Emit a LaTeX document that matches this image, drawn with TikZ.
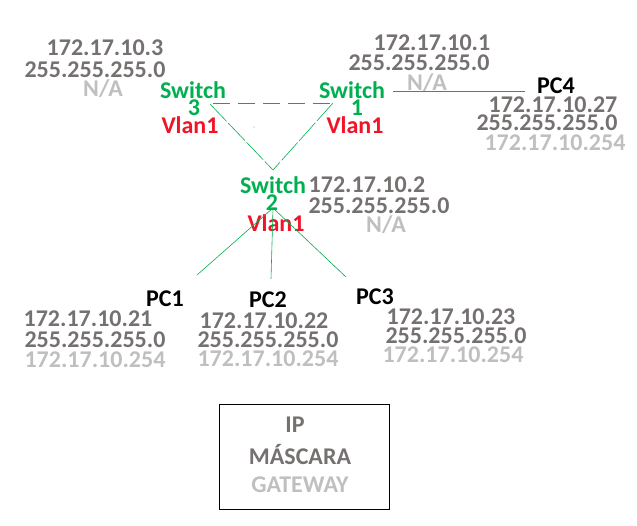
\documentclass[tikz,border=0pt]{standalone}
\usepackage{fontspec}
\setmainfont{Carlito}
\definecolor{ipgray}{RGB}{118,113,113}
\definecolor{gwgray}{RGB}{191,191,191}
\definecolor{swgreen}{RGB}{0,176,80}
\definecolor{vred}{RGB}{240,20,40}
\begin{document}
\begin{tikzpicture}[x=1pt,y=-1pt,
  lbl/.style={inner sep=0pt, anchor=base, text height=15pt, text depth=0pt, font=\fontsize{24}{24}\selectfont\bfseries},
  ip/.style={lbl, text=ipgray},
  gw/.style={lbl, text=gwgray},
  sw/.style={lbl, text=swgreen},
  vl/.style={lbl, text=vred},
  pc/.style={lbl, text=black},
  link/.style={draw=swgreen, line width=0.8pt},
  trunk/.style={link, dash pattern=on 17pt off 8pt},
  diag/.style={link, line width=0.6pt, dash pattern=on 24pt off 2.5pt}]
\useasboundingbox (0,0) rectangle (637,525);

% Switch 3 (left)
\node[ip] (s3ip) at (105,55) {172.17.10.3};
\node[ip] (s3mask) at (95,77) {255.255.255.0};
\node[gw] (s3gw) at (103,96) {N/A};
\node[sw] (s3a) at (193,98) {Switch};
\node[sw] (s3b) at (194,115) {3};
\node[vl] (s3v) at (190,133) {Vlan1};

% Switch 1 (top right)
\node[ip] (s1ip) at (432,50) {172.17.10.1};
\node[ip] (s1mask) at (419,70) {255.255.255.0};
\node[gw] (s1gw) at (427,90) {N/A};
\node[sw] (s1a) at (352,98) {Switch};
\node[sw] (s1b) at (357,115) {1};
\node[vl] (s1v) at (355,133) {Vlan1};

% PC4
\node[pc] (pc4) at (556,93) {PC4};
\node[ip] (pc4ip) at (553,112) {172.17.10.27};
\node[ip] (pc4mask) at (547,130) {255.255.255.0};
\node[gw] (pc4gw) at (555,150) {172.17.10.254};

% Switch 2 (centre)
\node[sw] (s2a) at (273,193) {Switch};
\node[sw] (s2b) at (272,210) {2};
\node[vl] (s2v) at (276,231) {Vlan1};
\node[ip] (s2ip) at (367,192) {172.17.10.2};
\node[ip] (s2mask) at (379,213) {255.255.255.0};
\node[gw] (s2gw) at (386,232) {N/A};

% PCs
\node[pc] (pc1) at (165,306) {PC1};
\node[ip] (pc1ip) at (88,326) {172.17.10.21};
\node[ip] (pc1mask) at (95,347) {255.255.255.0};
\node[gw] (pc1gw) at (95,367) {172.17.10.254};

\node[pc] (pc2) at (268,307) {PC2};
\node[ip] (pc2ip) at (264,328) {172.17.10.22};
\node[ip] (pc2mask) at (268,347) {255.255.255.0};
\node[gw] (pc2gw) at (268,366) {172.17.10.254};

\node[pc] (pc3) at (375,304) {PC3};
\node[ip] (pc3ip) at (451,324) {172.17.10.23};
\node[ip] (pc3mask) at (456,343) {255.255.255.0};
\node[gw] (pc3gw) at (453,362) {172.17.10.254};

% connection points
\coordinate (c3r) at (213,103);
\coordinate (c3d) at (210,104);
\coordinate (c1l) at (331,103);
\coordinate (c1d) at (333,103);
\coordinate (c1r) at (393,91);
\coordinate (c4) at (525,91);
\coordinate (c2t) at (273,170);
\coordinate (c2b) at (273,208);
\coordinate (cp1) at (197,275);
\coordinate (cp2) at (271,279);
\coordinate (cp3) at (346,277);

\draw[trunk] (c3r) -- (c1l);
\draw[diag] (c3d) -- (c2t);
\draw[diag] (c1d) -- (c2t);
\draw[link] (c1r) -- (c4);
\draw[link, line width=0.6pt] (c2b) -- (cp1);
\draw[link, line width=0.6pt] (c2b) -- (cp2);
\draw[link, line width=0.6pt] (c2b) -- (cp3);
\fill[swgreen!60] (254,127) circle (0.6pt);

% Legend
\node[draw=black, line width=1pt, minimum width=170pt, minimum height=105pt, inner sep=0pt] (legend) at (304.5,456.5) {};
\node[ip] (legip) at (295,432) {IP};
\node[ip] (legmask) at (300,464) {MÁSCARA};
\node[gw] (leggw) at (300,492) {GATEWAY};
\end{tikzpicture}
\end{document}
